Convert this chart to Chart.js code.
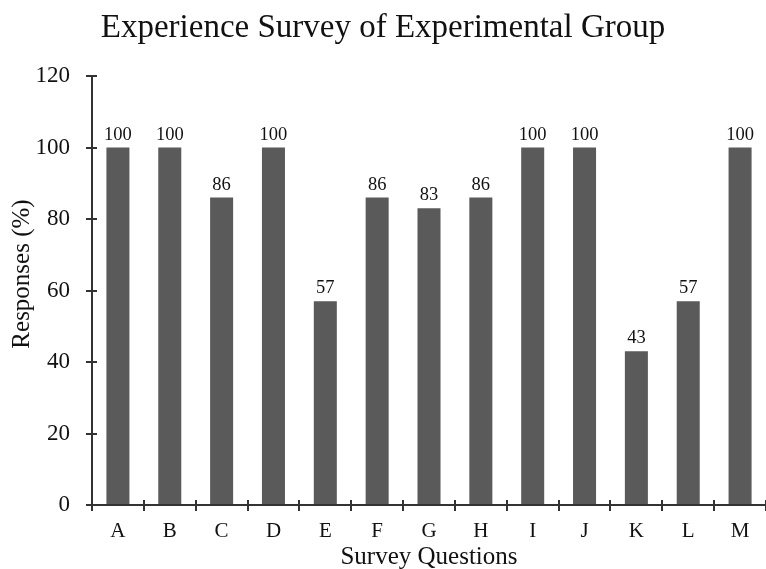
<!DOCTYPE html>
<html>
<head>
<meta charset="utf-8">
<script src="https://cdn.jsdelivr.net/npm/chart.js@4.4.1/dist/chart.umd.min.js"></script>
<style>
html,body{margin:0;padding:0;background:#fff;}
#wrap{width:766px;height:569px;}
</style>
</head>
<body>
<div id="wrap"><canvas id="c" width="766" height="569"></canvas></div>
<script>
const categories = ['A','B','C','D','E','F','G','H','I','J','K','L','M'];
const responses = [100,100,86,100,57,86,83,86,100,100,43,57,100];
const yTicks = [0,20,40,60,80,100,120];

const SERIF = "'Liberation Serif','Times New Roman',Times,serif";
const AXIS = '#333333';

const crossTicks = {
  id: 'crossTicks',
  afterDraw(chart) {
    const ctx = chart.ctx;
    const x = chart.scales.x, y = chart.scales.y;
    ctx.save();
    ctx.strokeStyle = AXIS;
    ctx.lineWidth = 2;
    ctx.beginPath();
    yTicks.forEach(v => {
      const py = Math.round(y.getPixelForValue(v));
      ctx.moveTo(y.right, py); ctx.lineTo(y.right + 5, py);
    });
    const w = x.getPixelForValue(1) - x.getPixelForValue(0);
    for (let i = 0; i <= categories.length; i++) {
      const px = Math.round(x.getPixelForValue(i) - w / 2);
      ctx.moveTo(px, x.top); ctx.lineTo(px, x.top - 5);
    }
    ctx.stroke();
    ctx.restore();
  }
};

const valueLabels = {
  id: 'valueLabels',
  afterDatasetsDraw(chart) {
    const ctx = chart.ctx;
    const meta = chart.getDatasetMeta(0);
    ctx.save();
    ctx.font = '18.5px ' + SERIF;
    ctx.fillStyle = '#111';
    ctx.textAlign = 'center';
    ctx.textBaseline = 'alphabetic';
    meta.data.forEach((bar, i) => {
      ctx.fillText(String(responses[i]), bar.x, bar.y - 8);
    });
    ctx.restore();
  }
};

const yAxisTitle = {
  id: 'yAxisTitle',
  afterDraw(chart) {
    const ctx = chart.ctx;
    ctx.save();
    ctx.translate(29, 274);
    ctx.rotate(-Math.PI / 2);
    ctx.font = '25px ' + SERIF;
    ctx.fillStyle = '#111';
    ctx.textAlign = 'center';
    ctx.textBaseline = 'alphabetic';
    ctx.fillText('Responses (%)', 0, 0);
    ctx.restore();
  }
};

new Chart(document.getElementById('c'), {
  type: 'bar',
  data: {
    labels: categories,
    datasets: [{
      data: responses,
      backgroundColor: '#5a5a5a',
      borderWidth: 0,
      barPercentage: 0.444,
      categoryPercentage: 1.0
    }]
  },
  options: {
    responsive: false,
    animation: false,
    devicePixelRatio: 1,
    layout: { padding: { top: 0, left: 0, right: 0, bottom: 0 } },
    plugins: {
      legend: { display: false },
      tooltip: { enabled: false },
      title: {
        display: true,
        text: 'Experience Survey of Experimental Group',
        color: '#111',
        font: { family: SERIF, size: 33, weight: 'normal', lineHeight: 1.2 },
        padding: { top: 9, bottom: 27.4 }
      }
    },
    scales: {
      x: {
        type: 'category',
        offset: true,
        border: { display: true, color: AXIS, width: 2 },
        grid: { display: true, drawOnChartArea: false, drawTicks: true, tickLength: 6, color: AXIS, lineWidth: 2, offset: true },
        ticks: { color: '#111', font: { family: SERIF, size: 21 }, padding: 8, maxRotation: 0, autoSkip: false },
        title: { display: true, text: 'Survey Questions', color: '#111', font: { family: SERIF, size: 25, lineHeight: 0.9 }, padding: { top: 0, bottom: 0 } },
        afterFit(s) { s.height = 64; }
      },
      y: {
        min: 0, max: 120,
        border: { display: true, color: AXIS, width: 2 },
        grid: { display: true, drawOnChartArea: false, drawTicks: true, tickLength: 6, color: AXIS, lineWidth: 2 },
        afterBuildTicks(s) { s.ticks = yTicks.map(v => ({ value: v })); },
        ticks: { color: '#111', font: { family: SERIF, size: 23 }, padding: 16 },
        title: { display: false },
        afterFit(s) { s.width = 92; }
      }
    }
  },
  plugins: [crossTicks, valueLabels, yAxisTitle]
});
</script>
</body>
</html>
